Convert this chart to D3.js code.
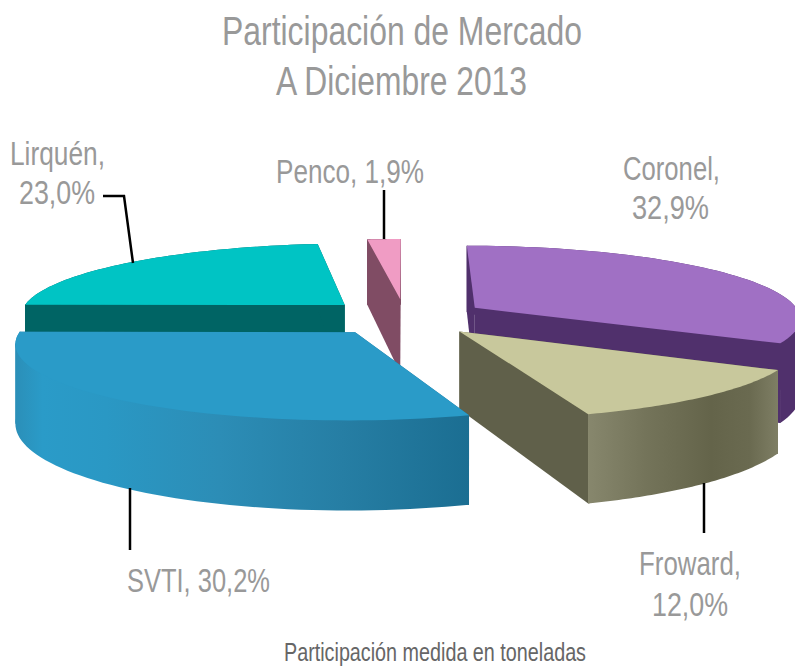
<!DOCTYPE html>
<html>
<head>
<meta charset="utf-8">
<script src="https://cdn.jsdelivr.net/npm/d3@7"></script>
<style>
  html, body { margin: 0; padding: 0; background: #fff; }
  svg { display: block; }
  text { font-family: "Liberation Sans", sans-serif; }
</style>
</head>
<body>
<div id="chart"></div>
<script>
const categories = ['Coronel', 'Froward', 'SVTI', 'Lirquén', 'Penco'];
const shares = [32.9, 12.0, 30.2, 23.0, 1.9];
const titleLines = ['Participación de Mercado', 'A Diciembre 2013'];
const footnote = 'Participación medida en toneladas';

const topColors = ['#a070c4', '#c8c89c', '#2a9bc8', '#00c4c4', '#f09cc4'];
const sideColors = ['#50306c', '#60604a', '#1f7397', '#006464', '#804c64'];
const wallStops = [
  [[0, '#50306c'], [1, '#50306c']],
  [[0, '#87876d'], [0.3, '#74745a'], [0.65, '#64644a'], [0.85, '#6a6a50'], [1, '#7e7e64']],
  [[0, '#2b8fb8'], [0.06, '#2a9bc8'], [0.2, '#2a98c4'], [0.45, '#2c8db6'], [0.72, '#267ea4'], [1, '#1b6e92']],
  [[0, '#006464'], [1, '#006464']],
  [[0, '#804c64'], [1, '#804c64']]
];

// back to front
const drawOrder = ['Lirquén', 'Penco', 'Coronel', 'Froward', 'SVTI'];

const width = 795, height = 666;
const cx = 405, cy = 317;
const rx = 344, ry = 76.2;     // plane scale on screen
const persp = 0.137;           // foreshortening towards the back
const radius = 0.95, explode = 0.24, depth = 76;

const pctFormat = d3.formatLocale({decimal: ',', thousands: '.', grouping: [3], currency: ['', '']}).format('.1f');
const label = name => `${pctFormat(shares[categories.indexOf(name)])}%`;

const svg = d3.select('#chart').append('svg').attr('width', width).attr('height', height);
const defs = svg.append('defs');

const arcs = d3.pie().sort(null).value(d => d)(shares);

// position on the pie plane -> screen
function project(u, v, lowered) {
  const w = 1 + persp * v;
  return [cx + rx * u / w, cy - ry * v / w + (lowered ? depth / w : 0)];
}

function slicePoint(arc, angle, r, lowered) {
  const mid = (arc.startAngle + arc.endAngle) / 2;
  return project(
    explode * Math.sin(mid) + r * Math.sin(angle),
    explode * Math.cos(mid) + r * Math.cos(angle),
    lowered);
}

const line = d3.line();

drawOrder.forEach(name => {
  const i = categories.indexOf(name);
  const arc = arcs[i];
  const step = (arc.endAngle - arc.startAngle) / 60;
  const angles = d3.range(arc.startAngle, arc.endAngle, step).concat(arc.endAngle);
  const rim = angles.map(a => slicePoint(arc, a, radius, false));
  const rimLow = angles.map(a => slicePoint(arc, a, radius, true));
  const apex = slicePoint(arc, 0, 0, false);
  const apexLow = slicePoint(arc, 0, 0, true);
  const g = svg.append('g').attr('class', 'slice').attr('data-name', name);

  // radial walls
  [[rim[0], rimLow[0]], [rim[rim.length - 1], rimLow[rimLow.length - 1]]].forEach(([hi, lo]) => {
    g.append('path')
      .attr('d', line([apex, hi, lo, apexLow]) + 'Z')
      .attr('fill', sideColors[i]);
  });

  // outer wall, shaded left to right
  const xs = d3.extent(rim, d => d[0]);
  const gradId = `wall-${i}`;
  const grad = defs.append('linearGradient')
    .attr('id', gradId)
    .attr('gradientUnits', 'userSpaceOnUse')
    .attr('x1', xs[0]).attr('x2', xs[1]).attr('y1', 0).attr('y2', 0);
  wallStops[i].forEach(s => grad.append('stop').attr('offset', s[0]).attr('stop-color', s[1]));
  g.append('path')
    .attr('d', line(rim.concat(rimLow.slice().reverse())) + 'Z')
    .attr('fill', `url(#${gradId})`);

  // the rim bulges past its own end, so fill up to the silhouette
  [d3.leastIndex(rim, (a, b) => a[0] - b[0]), d3.greatestIndex(rim, d => d[0])].forEach(k => {
    g.append('path')
      .attr('d', line([rim[k], rim[rim.length - 1], rimLow[rim.length - 1], rimLow[k]]) + 'Z')
      .attr('fill', `url(#${gradId})`);
    g.append('path')
      .attr('d', line([rim[k], rim[0], rimLow[0], rimLow[k]]) + 'Z')
      .attr('fill', `url(#${gradId})`);
  });

  // top face
  g.append('path')
    .attr('d', line([apex].concat(rim)) + 'Z')
    .attr('fill', topColors[i]);
});

// leader lines
const leaders = [
  [[103, 196], [124, 196], [133, 263]],
  [[384, 190], [384, 239]],
  [[130, 488], [130, 550]],
  [[704, 483], [704, 533]]
];
svg.selectAll('.leader').data(leaders).join('path')
  .attr('class', 'leader')
  .attr('d', d => line(d))
  .attr('fill', 'none')
  .attr('stroke', '#000')
  .attr('stroke-width', 2.5);

// text: [string, left, right, baseline, size, colour]
const texts = [
  [titleLines[0], 222, 582, 45, 41, '#999'],
  [titleLines[1], 276, 527, 95, 41, '#999'],
  ['Lirquén,', 10, 105, 165, 33, '#999'],
  [label('Lirquén'), 19, 95, 204, 33, '#999'],
  [`Penco, ${label('Penco')}`, 276, 424, 183, 33, '#999'],
  ['Coronel,', 623, 720, 180, 33, '#999'],
  [label('Coronel'), 632, 709, 219, 33, '#999'],
  [`SVTI, ${label('SVTI')}`, 127, 270, 592, 33, '#999'],
  ['Froward,', 639, 741, 575, 33, '#999'],
  [label('Froward'), 652, 728, 616, 33, '#999'],
  [footnote, 284, 586, 661, 25, '#666']
];
svg.selectAll('.label').data(texts).join('text')
  .attr('class', 'label')
  .attr('x', d => d[1])
  .attr('y', d => d[3])
  .attr('textLength', d => d[2] - d[1])
  .attr('lengthAdjust', 'spacingAndGlyphs')
  .attr('font-size', d => d[4])
  .attr('fill', d => d[5])
  .text(d => d[0]);
</script>
</body>
</html>
